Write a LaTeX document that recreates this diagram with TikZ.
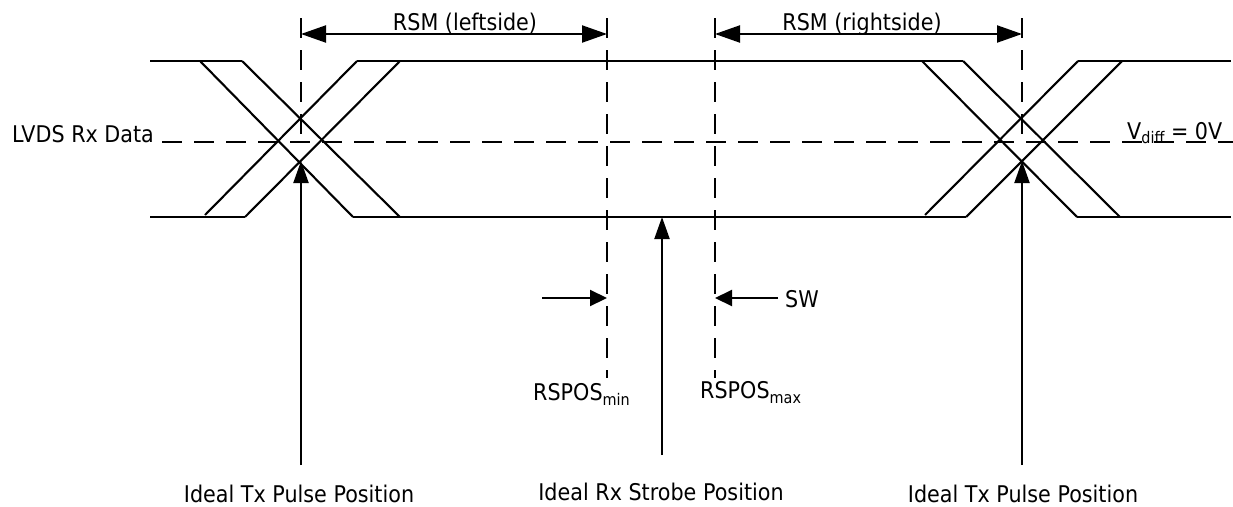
\documentclass[tikz,border=0pt]{standalone}
\usepackage{fontspec}
\setmainfont[FakeStretch=0.9]{DejaVu Sans}
\usetikzlibrary{arrows.meta}
\begin{document}
\begin{tikzpicture}[x=1pt,y=-1pt,
  wave/.style={line width=2.1pt},
  guide/.style={line width=2.1pt, dash pattern=on 20pt off 12pt},
  dimline/.style={line width=2.1pt, {Triangle[length=25pt,width=17pt]}-{Triangle[length=25pt,width=17pt]}},
  swarrow/.style={line width=2.1pt, -{Triangle[length=17pt,width=16pt]}},
  uparrow/.style={line width=2.1pt, -{Triangle[length=22pt,width=15pt]}},
  lbl/.style={font=\fontsize{23}{28}\selectfont, inner sep=0pt}]
\useasboundingbox (0,0) rectangle (1233,506);

% signal levels
\draw[wave] (150,61) -- (242,61);
\draw[wave] (357,61) -- (963,61);
\draw[wave] (1078,61) -- (1231,61);
\draw[wave] (150,217) -- (245,217);
\draw[wave] (353,217) -- (966,217);
\draw[wave] (1077,217) -- (1231,217);

% left crossing
\draw[wave] (200,61) -- (353,217);
\draw[wave] (242,61) -- (400,217);
\draw[wave] (205,215) -- (357,61);
\draw[wave] (245,217) -- (400,61);

% right crossing
\draw[wave] (922,61) -- (1077,217);
\draw[wave] (963,61) -- (1120,217);
\draw[wave] (925,215) -- (1078,61);
\draw[wave] (966,217) -- (1122,61);

% zero-crossing reference
\draw[guide] (162,142) -- (1233,142);

% vertical guides
\coordinate (txLtop) at (301,18);
\coordinate (txLmid) at (301,142);
\coordinate (minTop) at (607,18);
\coordinate (minBot) at (607,378);
\coordinate (maxTop) at (715,18);
\coordinate (maxBot) at (715,378);
\coordinate (txRtop) at (1022,18);
\coordinate (txRmid) at (1022,142);
\draw[guide] (txLtop) -- (txLmid);
\draw[guide] (minTop) -- (minBot);
\draw[guide] (maxTop) -- (maxBot);
\draw[guide] (txRtop) -- (txRmid);

% sampling margins
\coordinate (rsmL1) at (301,34);
\coordinate (rsmL2) at (607,34);
\coordinate (rsmR1) at (715,34);
\coordinate (rsmR2) at (1022,34);
\draw[dimline] (rsmL1) -- (rsmL2);
\draw[dimline] (rsmR1) -- (rsmR2);
\node[lbl, anchor=base] (rsmLt) at (465,30) {RSM (leftside)};
\node[lbl, anchor=base] (rsmRt) at (862,30) {RSM (rightside)};

% strobe window
\coordinate (swL0) at (542,298);
\coordinate (swL1) at (607,298);
\coordinate (swR0) at (778,298);
\coordinate (swR1) at (715,298);
\draw[swarrow] (swL0) -- (swL1);
\draw[swarrow] (swR0) -- (swR1);
\node[lbl, anchor=base west] (sw) at (785,307) {SW};

\node[lbl, anchor=base west] (rsmin) at (533,400) {RSPOS\raisebox{-5pt}{\fontsize{16}{18}\selectfont min}};
\node[lbl, anchor=base west] (rsmax) at (700,398) {RSPOS\raisebox{-5pt}{\fontsize{16}{18}\selectfont max}};

% signal labels
\node[lbl, anchor=base west] (data) at (12,142) {LVDS Rx Data};
\node[lbl, anchor=base west] (vdiff) at (1127,139) {V\raisebox{-4pt}{\fontsize{16}{18}\selectfont diff} = 0V};

% position markers
\node[lbl, anchor=base] (txL) at (299,502) {Ideal Tx Pulse Position};
\node[lbl, anchor=base] (rx) at (661,500) {Ideal Rx Strobe Position};
\node[lbl, anchor=base] (txR) at (1023,502) {Ideal Tx Pulse Position};

\coordinate (txLfoot) at (301,465);
\coordinate (txLhit) at (301,161);
\coordinate (rxfoot) at (662,455);
\coordinate (rxhit) at (662,217);
\coordinate (txRfoot) at (1022,465);
\coordinate (txRhit) at (1022,161);
\draw[uparrow] (txLfoot) -- (txLhit);
\draw[uparrow] (rxfoot) -- (rxhit);
\draw[uparrow] (txRfoot) -- (txRhit);
\end{tikzpicture}
\end{document}
